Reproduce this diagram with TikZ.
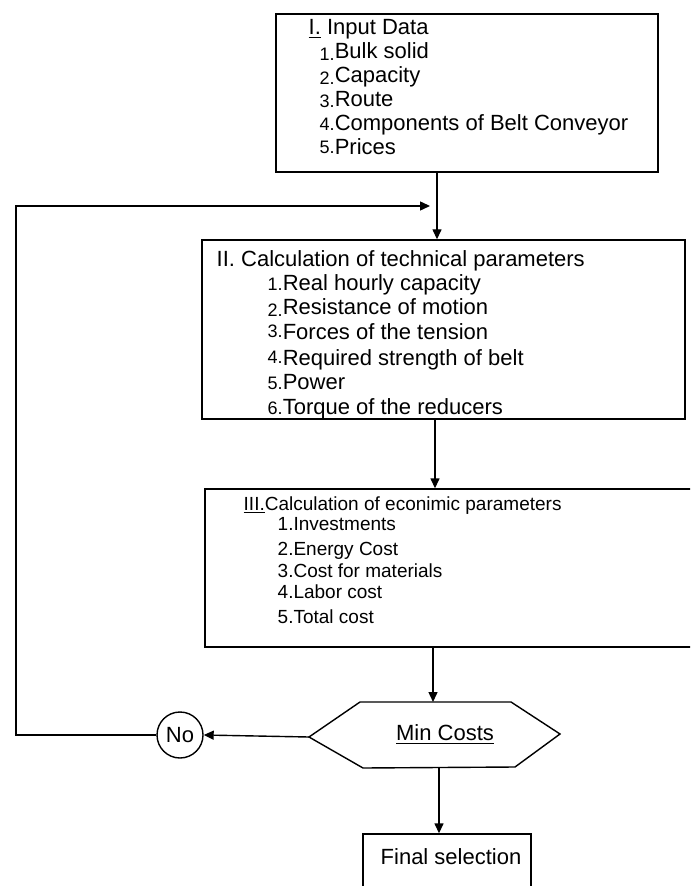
\documentclass[tikz,border=0pt]{standalone}
\usepackage{fontspec}
\setmainfont{Liberation Sans}
\usetikzlibrary{positioning,arrows.meta}
\tikzstyle{FlowBox}=[rectangle, draw=black, line width=0.7pt, inner sep=0pt]
\tikzstyle{ListText}=[align=left, inner sep=0pt, anchor=base west]
\tikzstyle{FlowArrow}=[-{Triangle[length=5pt,width=4.5pt]}, line width=0.7pt]
\newcommand{\numlabel}[2][0pt]{\raisebox{#1}{\scalebox{0.82}{#2}}}

\begin{document}
\begin{tikzpicture}[x=0.5pt, y=-0.5pt, line width=0.7pt]
    \clip (0,0) rectangle (690,886);

    % boxes
    \node (input) [FlowBox, minimum width=191pt, minimum height=79pt] at (467,93) {};
    \node (tech) [FlowBox, minimum width=241.5pt, minimum height=89.5pt] at (443.5,329.5) {};
    \node (econ) [FlowBox, minimum width=257.5pt, minimum height=79pt] at (462.5,568) {};
    \node (final) [FlowBox, minimum width=84pt, minimum height=43pt] at (447,877) {};
    \node (no) [circle, draw=black, minimum size=23pt, inner sep=0pt, font=\fontsize{11}{13}\selectfont] at (180,735) {No};

    % decision
    \coordinate (hexN) at (433,702);
    \coordinate (hexW) at (309,737);
    \coordinate (hexS) at (439,768);
    \draw (hexW) -- (360,702) -- (511,702) -- (560,734) -- (515,767) -- (363,768) -- cycle;
    \node (mincost) [anchor=base, inner sep=0pt, font=\fontsize{11}{13}\selectfont] at (445,740) {\underline{Min Costs}};

    % texts (placed at the baseline of their last line)
    \node (inputtext) [ListText, font=\fontsize{11}{12}\selectfont] at (308,155) {\underline{I.} Input Data\\
        \hspace*{5.5pt}\numlabel[-1pt]{1.}Bulk solid\\
        \hspace*{5.5pt}\numlabel[-1pt]{2.}Capacity\\
        \hspace*{5.5pt}\numlabel[-0.5pt]{3.}Route\\
        \hspace*{5.5pt}\numlabel{4.}Components of Belt Conveyor\\
        \hspace*{5.5pt}\numlabel[0.5pt]{5.}Prices};
    \node (techtext) [ListText, font=\fontsize{11}{12}\selectfont] at (216,415) {II. Calculation of technical parameters\\
        \hspace*{25.5pt}\numlabel{1.}Real hourly capacity\\
        \hspace*{25.5pt}\numlabel[-0.8pt]{2.}Resistance of motion\\[0.5pt]
        \hspace*{25.5pt}\numlabel[1.2pt]{3.}Forces of the tension\\[1pt]
        \hspace*{25.5pt}\numlabel[1.2pt]{4.}Required strength of belt\\
        \hspace*{25.5pt}\numlabel{5.}Power\\[0.5pt]
        \hspace*{25.5pt}\numlabel{6.}Torque of the reducers};
    \node (econtext) [ListText, font=\fontsize{9.5}{10}\selectfont] at (243,623) {\underline{III.}Calculation of econimic parameters\\
        \hspace*{17pt}1.Investments\\[2.5pt]
        \hspace*{17pt}2.Energy Cost\\[1pt]
        \hspace*{17pt}3.Cost for materials\\[0.5pt]
        \hspace*{17pt}4.Labor cost\\[2.5pt]
        \hspace*{17pt}5.Total cost};
    \node (finaltext) [ListText, font=\fontsize{11}{13}\selectfont] at (380,864) {Final selection};

    % connectors
    \coordinate (loopcorner) at (16,206);
    \coordinate (loopend) at (430,206);
    \draw [FlowArrow] ([xshift=-15pt]input.south) -- ([xshift=-15pt]input.south |- tech.north);
    \draw [FlowArrow] ([xshift=-4.25pt]tech.south) -- ([xshift=-4.25pt]tech.south |- econ.north);
    \draw [FlowArrow] (econ.south -| hexN) -- (hexN);
    \draw [FlowArrow] (hexS) -- (hexS |- final.north);
    \draw [FlowArrow] (hexW) -- (no.east);
    \draw [FlowArrow] (no.west) -| (loopcorner) -- (loopend);
\end{tikzpicture}
\end{document}
